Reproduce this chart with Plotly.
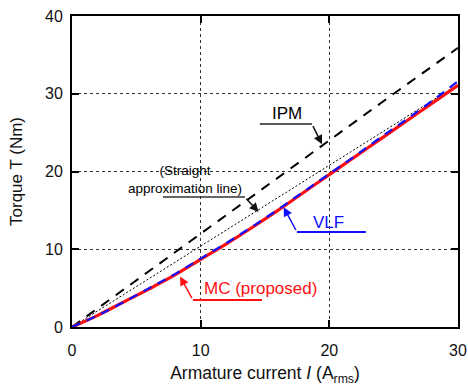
import plotly.graph_objects as go

# ---- data ----
I_curve = [0, 2, 4, 6, 8, 10, 12, 14, 16, 18, 20, 22, 24, 26, 28, 30]
T_mc = [0, 1.5, 3.2, 4.9, 6.7, 8.7, 10.7, 12.8, 15.0, 17.3, 19.6, 21.9, 24.2, 26.5, 28.8, 31.1]
T_vlf = [0, 1.5, 3.2, 5.0, 6.8, 8.8, 10.8, 12.9, 15.1, 17.4, 19.7, 22.0, 24.4, 26.7, 29.1, 31.6]
I_ipm = [0, 5, 10, 15, 20, 25, 30]
T_ipm = [0, 6.0, 12.1, 18.1, 24.1, 30.0, 35.9]
I_line = [0, 30]
T_line = [0, 31.2]

x_ticks = [0, 10, 20, 30]
y_ticks = [0, 10, 20, 30, 40]

FONT = "Liberation Sans, Arial, sans-serif"
RED = "#ff1010"
BLUE = "#1010ff"

fig = go.Figure()
fig.add_trace(go.Scatter(x=I_ipm, y=T_ipm, mode="lines",
                         line=dict(color="black", width=2, dash="10px,8px"), showlegend=False))
fig.add_trace(go.Scatter(x=I_line, y=T_line, mode="lines",
                         line=dict(color="black", width=1, dash="2px,2px"), showlegend=False))
fig.add_trace(go.Scatter(x=I_curve, y=T_mc, mode="lines", line_shape="spline",
                         line=dict(color=RED, width=3.2), showlegend=False))
fig.add_trace(go.Scatter(x=I_curve, y=T_vlf, mode="lines", line_shape="spline",
                         line=dict(color=BLUE, width=2.2, dash="9px,7px"), showlegend=False))

# leader lines (horizontal parts)
def hline(x0, x1, y, color, w=1.5):
    fig.add_shape(type="line", x0=x0, x1=x1, y0=y, y1=y, xref="x", yref="y",
                  line=dict(color=color, width=w))

hline(14.6, 18.65, 26.1, "#222")          # IPM
hline(7.07, 13.44, 16.72, "#333")         # straight approx
hline(17.48, 22.84, 12.22, BLUE, 2)       # VLF
hline(9.4, 14.76, 3.47, RED, 2)           # MC

def arrow(x0, y0, x1, y1, color, w=1.5):
    fig.add_annotation(x=x1, y=y1, ax=x0, ay=y0, xref="x", yref="y", axref="x", ayref="y",
                       text=" ", showarrow=True, arrowhead=2, arrowsize=1.2,
                       arrowwidth=w, arrowcolor=color, font=dict(size=1))

arrow(18.65, 26.1, 19.43, 23.5, "#111")
arrow(13.44, 16.72, 14.5, 14.8, "#111")
arrow(17.48, 12.22, 16.45, 15.4, BLUE)
arrow(9.4, 3.47, 8.4, 6.5, RED)

def label(x, y, text, color, size, xanchor="center"):
    fig.add_annotation(x=x, y=y, xref="x", yref="y", text=text, showarrow=False,
                       xanchor=xanchor, yanchor="middle",
                       font=dict(family=FONT, size=size, color=color))

label(16.7, 27.5, "IPM", "black", 17)
label(4.2, 19.0, "(Straight<br>approximation line)", "black", 13.5, xanchor="left")
label(19.9, 13.5, "VLF", BLUE, 17)
label(14.65, 4.9, "MC (proposed)", RED, 17)

axis_common = dict(
    showline=True, linecolor="black", linewidth=2, mirror="ticks",
    ticks="inside", ticklen=7, tickwidth=1.5, tickcolor="black",
    showgrid=True, gridcolor="#333", gridwidth=1, griddash="dot",
    zeroline=False, tickfont=dict(family=FONT, size=16, color="#111"),
)

fig.update_xaxes(range=[0, 30], tickvals=x_ticks, **axis_common, ticklabelstandoff=8,
                 title=dict(text="Armature current <i>I</i> (A<sub>rms</sub>)",
                            font=dict(family=FONT, size=17.5, color="#111"), standoff=14))
fig.update_yaxes(range=[0, 40], tickvals=y_ticks, **axis_common, ticklabelstandoff=4,
                 title=dict(text="Torque T (Nm)",
                            font=dict(family=FONT, size=17, color="#111"), standoff=18))

fig.update_layout(
    width=468, height=386,
    margin=dict(l=72, r=10, t=16, b=59, autoexpand=False),
    plot_bgcolor="white", paper_bgcolor="white",
)

fig.write_html("out.html")
